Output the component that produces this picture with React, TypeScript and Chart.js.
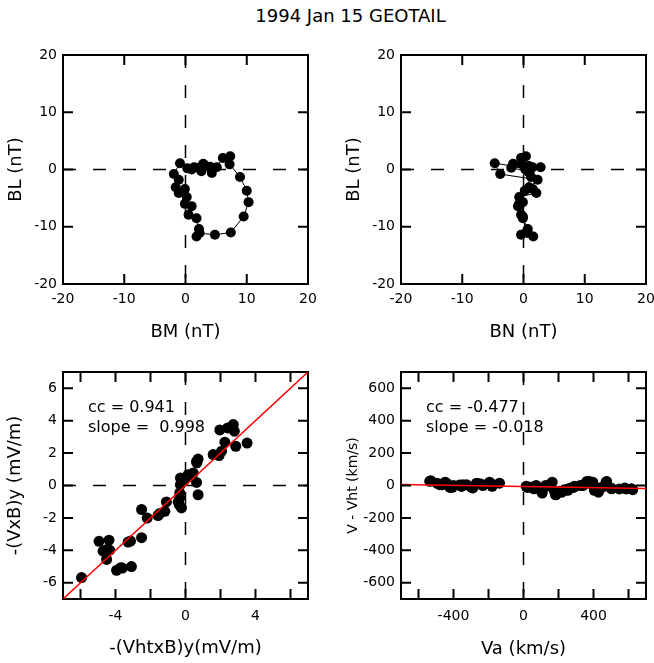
import React, { useEffect, useRef } from 'react';
import { Chart, registerables } from 'chart.js';

Chart.register(...registerables);

const FONT = "'DejaVu Sans', Verdana, sans-serif";

// ---- Hodogram (time ordered), nT ----
const hodoBM = [1.4, 2.1, 2.6, 2.9, 3.3, 4.0, 4.3, 5.1, 6.1, 7.3, 7.2, 8.9, 10.0, 10.3, 9.5, 7.4, 4.8, 2.3, 1.8, 2.2, 1.8, 0.5, 1.0, -0.1, 0.2, -1.1, -0.1, -1.6, -1.1, -1.9, -0.9, 0.3, 1.0];
const hodoBL = [0.4, 0.3, -0.3, 1.0, 0.6, 0.5, -0.6, 0.4, 2.0, 2.3, 0.9, -1.3, -3.7, -5.7, -8.2, -11.0, -11.4, -11.1, -11.7, -10.4, -8.5, -7.9, -6.4, -6.0, -4.8, -4.1, -3.4, -3.1, -1.8, -0.8, 1.1, 0.2, 0.0];
const hodoBN = [1.5, -2.0, 0.6, -1.7, 0.9, 0.2, 1.0, 2.8, -0.4, 0.4, -0.2, 1.25, 0.2, -0.1, -0.1, 0.4, -0.4, 0.7, 1.6, 0.7, -0.1, -0.4, -0.9, -0.7, -0.7, 2.1, 1.5, 0.9, 2.3, -3.8, -4.7, 0.5, 0.3];
const hodoTicks = [-20, -10, 0, 10, 20];

// ---- deHoffmann-Teller test, mV/m ----
const htX = [-5.94, -4.94, -4.37, -4.71, -4.33, -4.51, -4.49, -3.94, -3.70, -3.61, -3.09, -3.28, -3.14, -2.51, -2.51, -2.19, -1.47, -1.57, -1.18, -1.09, -0.42, -0.33, -0.23, -0.33, -0.29, -0.29, -0.04, 0.15, 0.44, 0.63, 0.72, 0.63, 0.72, 0.65, 1.58, 1.92, 2.06, 2.25, 2.87, 3.52, 1.96, 2.41, 2.73, 2.79, -0.17, 0.30, -0.35];
const htY = [-5.68, -3.44, -3.37, -4.05, -3.99, -4.56, -3.94, -5.23, -5.07, -5.09, -5.0, -3.49, -3.43, -3.22, -1.48, -2.01, -1.72, -1.85, -1.59, -1.01, -1.01, -0.76, -1.38, -0.46, 0.05, 0.46, 0.36, 0.67, 0.77, 0.19, -0.57, 1.48, 1.63, 1.40, 1.91, 1.85, 2.12, 2.67, 2.42, 2.62, 3.43, 3.55, 3.76, 3.35, 0.37, 0.6, -1.2];
const htFitX = [-7, 7];
const htFitY = [-7, 7];
const htTicks = [-6, -4, -2, 0, 2, 4, 6];
const htXLabels = [-4, 0, 4];
const htStats = ['cc = 0.941', 'slope =  0.998'];

// ---- Walen test, km/s ----
const walenVa = [-536, -529, -495, -479, -467, -448, -441, -420, -407, -401, -365, -354, -346, -325, -297, -289, -269, -251, -241, -232, -194, -179, -175, -137,
  15, 23, 34, 60, 72, 101, 107, 127, 129, 152, 164, 177, 183, 186, 205, 220, 234, 253, 258, 272, 286, 291, 324, 339, 354, 362, 377, 390, 396, 405, 424, 428, 453, 472, 475, 500, 503, 548, 579, 586, 616, 624];
const walenDV = [26, 29, 14, 5, 4, 20, 15, -12, -11, 0, 3, -6, 5, 4, -12, -15, 14, 11, 8, 0, 20, -5, 4, 14,
  -5, -12, -9, -20, 0, -31, -47, 0, -5, 5, 20, -36, -57, -56, -36, -41, -26, -30, -20, -15, -12, -5, 0, 0, 11, 25, 24, 8, 20, -30, -15, -41, -9, 20, 25, -15, -20, -21, -16, -21, -20, -26];
const walenFitX = [-700, 700];
const walenFitY = [6, -19];
const walenXTicks = [-600, -400, -200, 0, 200, 400, 600];
const walenXLabels = [-400, 0, 400];
const walenYTicks = [-600, -400, -200, 0, 200, 400, 600];
const walenStats = ['cc = -0.477', 'slope = -0.018'];

const zip = (xs: number[], ys: number[]) => xs.map((x, i) => ({ x, y: ys[i] }));

type AxisOpt = {
  position: 'left' | 'right' | 'top' | 'bottom';
  min: number; max: number;
  ticks: number[]; labels?: number[];
  size: number; tickPad?: number;
  title?: string; titleSize?: number; titlePad?: { top: number; bottom: number };
};

function axis(o: AxisOpt) {
  const horizontal = o.position === 'top' || o.position === 'bottom';
  const labels = o.labels || [];
  return {
    type: 'linear',
    position: o.position,
    min: o.min,
    max: o.max,
    afterBuildTicks: (s: any) => { s.ticks = o.ticks.map((v) => ({ value: v })); },
    afterFit: (s: any) => {
      if (horizontal) s.height = o.size; else s.width = o.size;
      s.paddingLeft = 0; s.paddingRight = 0; s.paddingTop = 0; s.paddingBottom = 0;
    },
    ticks: {
      display: !!o.labels,
      autoSkip: false,
      maxRotation: 0,
      minRotation: 0,
      padding: o.tickPad ?? 0,
      color: '#000',
      font: { family: FONT, size: 14 },
      callback: (v: number) => (labels.includes(v) ? String(v) : ''),
    },
    grid: { display: false, drawOnChartArea: false, drawTicks: false },
    border: { display: true, color: '#000', width: 2 },
    title: o.title
      ? {
          display: true,
          text: o.title,
          color: '#000',
          font: { family: FONT, size: o.titleSize ?? 18 },
          padding: o.titlePad ?? { top: 0, bottom: 0 },
        }
      : { display: false },
  };
}

// per-chart plugin: inward tick marks on all four sides from each scale's ticks, plus stats text
const decorPlugin = (lines: string[]) => ({
  id: 'decor',
  afterDraw(chart: any) {
    const ctx = chart.ctx;
    const a = chart.chartArea;
    const L = 10;
    ctx.save();
    ctx.setLineDash([]);
    ctx.strokeStyle = '#000';
    ctx.lineWidth = 2;
    const sx = chart.scales['x'];
    const sy = chart.scales['y'];
    sx.ticks.forEach((t: any) => {
      const p = sx.getPixelForValue(t.value);
      ctx.beginPath();
      ctx.moveTo(p, a.bottom);
      ctx.lineTo(p, a.bottom - L);
      ctx.moveTo(p, a.top);
      ctx.lineTo(p, a.top + L);
      ctx.stroke();
    });
    sy.ticks.forEach((t: any) => {
      const p = sy.getPixelForValue(t.value);
      ctx.beginPath();
      ctx.moveTo(a.left, p);
      ctx.lineTo(a.left + L, p);
      ctx.moveTo(a.right, p);
      ctx.lineTo(a.right - L, p);
      ctx.stroke();
    });
    ctx.fillStyle = '#000';
    ctx.font = `16px ${FONT}`;
    ctx.textAlign = 'left';
    ctx.textBaseline = 'alphabetic';
    lines.forEach((t, i) => ctx.fillText(t, a.left + 25, a.top + 40 + i * 20));
    ctx.restore();
  },
});

const dashed = (pts: { x: number; y: number }[]) => ({
  data: pts,
  showLine: true,
  borderColor: '#000',
  borderWidth: 1.5,
  borderDash: [13, 17],
  pointRadius: 0,
  order: 3,
});

const baseOptions = (padding: any, scales: any) => ({
  responsive: false,
  maintainAspectRatio: false,
  animation: false,
  events: [],
  layout: { padding },
  plugins: { legend: { display: false }, tooltip: { enabled: false } },
  scales,
});

function hodoConfig(xs: number[], xTitle: string, yWidth: number, yTitlePad: number, padRight: number) {
  return {
    type: 'scatter',
    data: {
      datasets: [
        dashed([{ x: -20, y: 0 }, { x: 20, y: 0 }]),
        dashed([{ x: 0, y: 20 }, { x: 0, y: -20 }]),
        {
          data: zip(xs, hodoBL),
          showLine: true,
          borderColor: '#000',
          borderWidth: 1,
          pointRadius: 5,
          pointBackgroundColor: '#000',
          pointBorderWidth: 0,
          order: 1,
        },
      ],
    },
    options: baseOptions({ left: 0, top: 15, right: padRight, bottom: 0 }, {
      x: axis({ position: 'bottom', min: -20, max: 20, ticks: hodoTicks, labels: hodoTicks, size: 66, tickPad: 6.6, title: xTitle, titlePad: { top: 0, bottom: 7.2 } }),
      y: axis({ position: 'left', min: -20, max: 20, ticks: hodoTicks, labels: hodoTicks, size: yWidth, tickPad: 6, title: 'BL (nT)', titlePad: { top: yTitlePad, bottom: 0 } }),
      x2: axis({ position: 'top', min: -20, max: 20, ticks: hodoTicks, size: 0 }),
      y2: axis({ position: 'right', min: -20, max: 20, ticks: hodoTicks, size: 0 }),
    }),
    plugins: [decorPlugin([])],
  };
}

function htConfig() {
  return {
    type: 'scatter',
    data: {
      datasets: [
        dashed([{ x: -7, y: 0 }, { x: 7, y: 0 }]),
        dashed([{ x: 0, y: 7 }, { x: 0, y: -7 }]),
        { data: zip(htX, htY), pointRadius: 5.5, pointBackgroundColor: '#000', pointBorderWidth: 0, order: 2 },
        { data: zip(htFitX, htFitY), showLine: true, borderColor: '#ff0000', borderWidth: 1.5, pointRadius: 0, order: 0 },
      ],
    },
    options: baseOptions({ left: 0, top: 12, right: 19, bottom: 0 }, {
      x: axis({ position: 'bottom', min: -7, max: 7, ticks: htTicks, labels: htXLabels, size: 64, tickPad: 9.3, title: '-(VhtxB)y(mV/m)', titlePad: { top: 0, bottom: 4.2 } }),
      y: axis({ position: 'left', min: -7, max: 7, ticks: htTicks, labels: htTicks, size: 63, tickPad: 6, title: '-(VxB)y (mV/m)', titlePad: { top: 4.2, bottom: 0 } }),
      x2: axis({ position: 'top', min: -7, max: 7, ticks: htTicks, size: 0 }),
      y2: axis({ position: 'right', min: -7, max: 7, ticks: htTicks, size: 0 }),
    }),
    plugins: [decorPlugin(htStats)],
  };
}

function walenConfig() {
  return {
    type: 'scatter',
    data: {
      datasets: [
        dashed([{ x: 0, y: 700 }, { x: 0, y: -700 }]),
        { data: zip(walenVa, walenDV), pointRadius: 5.5, pointBackgroundColor: '#000', pointBorderWidth: 0, order: 2 },
        { data: zip(walenFitX, walenFitY), showLine: true, borderColor: '#ff0000', borderWidth: 1.5, pointRadius: 0, order: 0 },
      ],
    },
    options: baseOptions({ left: 0, top: 12, right: 8, bottom: 0 }, {
      x: axis({ position: 'bottom', min: -700, max: 700, ticks: walenXTicks, labels: walenXLabels, size: 64, tickPad: 9.3, title: 'Va (km/s)', titlePad: { top: 0, bottom: 3.2 } }),
      y: axis({ position: 'left', min: -700, max: 700, ticks: walenYTicks, labels: walenYTicks, size: 74, tickPad: 6, title: 'V - Vht (km/s)', titleSize: 14, titlePad: { top: 18.3, bottom: 0 } }),
      x2: axis({ position: 'top', min: -700, max: 700, ticks: walenXTicks, size: 0 }),
      y2: axis({ position: 'right', min: -700, max: 700, ticks: walenYTicks, size: 0 }),
    }),
    plugins: [decorPlugin(walenStats)],
  };
}

function Panel(props: { left: number; top: number; width: number; height: number; make: () => any }) {
  const ref = useRef<HTMLCanvasElement | null>(null);
  useEffect(() => {
    const chart = new Chart(ref.current as HTMLCanvasElement, props.make());
    return () => chart.destroy();
  }, []);
  return (
    <canvas
      ref={ref}
      width={props.width}
      height={props.height}
      style={{ position: 'absolute', left: props.left, top: props.top, width: props.width, height: props.height }}
    />
  );
}

export default function App() {
  return (
    <div style={{ position: 'absolute', left: 0, top: 0, width: 654, height: 663, overflow: 'hidden', background: '#fff' }}>
      <div
        style={{
          position: 'absolute', left: 0, top: 7, width: 701, textAlign: 'center',
          fontFamily: FONT, fontSize: 18, lineHeight: '18px', color: '#000',
        }}
      >
        1994 Jan 15 GEOTAIL
      </div>
      <Panel left={0} top={40} width={327} height={310} make={() => hodoConfig(hodoBM, 'BM (nT)', 63, 6, 19)} />
      <Panel left={327} top={40} width={327} height={310} make={() => hodoConfig(hodoBN, 'BN (nT)', 74, 16.7, 8)} />
      <Panel left={0} top={360} width={327} height={303} make={htConfig} />
      <Panel left={327} top={360} width={327} height={303} make={walenConfig} />
    </div>
  );
}
